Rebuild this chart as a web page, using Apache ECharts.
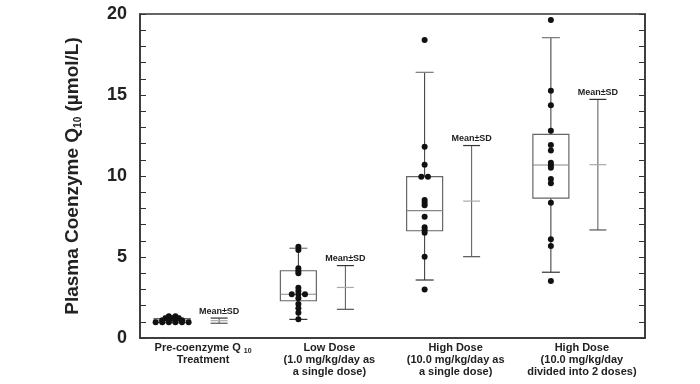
<!DOCTYPE html>
<html><head><meta charset="utf-8">
<script src="https://cdn.jsdelivr.net/npm/echarts@6/dist/echarts.min.js"></script>
<style>html,body{margin:0;padding:0;background:#fff}#c{width:700px;height:384px}</style>
</head><body><div id="c"></div>
<script>
// ---- data ----
const categories = [
  'Pre-coenzyme Q {sub|10}\nTreatment',
  'Low Dose\n(1.0 mg/kg/day as\na single dose)',
  'High Dose\n(10.0 mg/kg/day as\na single dose)',
  'High Dose\n(10.0 mg/kg/day\ndivided into 2 doses)'
];
const pointsPre = [0.97, 0.97, 0.97, 0.97, 0.97, 0.97, 1.1, 1.1, 1.1, 1.1, 1.22, 1.22, 1.22, 1.35, 1.35];
const pointsLow = [5.64, 5.43, 4.30, 4.14, 4.0, 3.1, 2.9, 2.7, 2.7, 2.7, 2.45, 2.1, 1.83, 1.56, 1.15];
const pointsHighSingle = [18.4, 11.8, 10.7, 9.96, 9.96, 8.52, 8.35, 8.19, 7.49, 6.83, 6.67, 6.5, 5.02, 3.0];
const pointsHighDivided = [19.63, 15.27, 14.36, 12.8, 11.91, 11.58, 10.82, 10.66, 10.51, 9.81, 9.55, 8.35, 6.09, 5.68, 3.52];
const whiskerLow  = [0.95, 1.15, 3.58, 4.06];
const quartile1   = [0.97, 2.30, 6.62, 8.64];
const medians     = [1.1, 2.70, 7.86, 10.68];
const quartile3   = [1.2, 4.15, 9.96, 12.57];
const whiskerHigh = [1.35, 5.54, 16.4, 18.54];
const means = [1.07, 3.12, 8.45, 10.70];
const sds   = [0.16, 1.35, 3.43, 4.03];
const meanLabel = 'Mean±SD';
const yMin = 0, yMax = 20, yStep = 5;
// --------------------------------------

const allPoints = [pointsPre, pointsLow, pointsHighSingle, pointsHighDivided];
const FONT = '"Liberation Sans", Arial, sans-serif';
const BOX_OFF = -31, SD_OFF = 16;

function renderBox(params, api) {
  const i = api.value(0);
  const cx = api.coord([i, 0])[0] + BOX_OFF;
  const y = v => api.coord([i, v])[1];
  const hw = 18, cw = 9;
  const dark = '#333', grey = '#777';
  return { type: 'group', children: [
    { type: 'line', shape: { x1: cx, y1: y(quartile3[i]), x2: cx, y2: y(whiskerHigh[i]) }, style: { stroke: dark, lineWidth: 1 } },
    { type: 'line', shape: { x1: cx, y1: y(quartile1[i]), x2: cx, y2: y(whiskerLow[i]) }, style: { stroke: dark, lineWidth: 1 } },
    { type: 'line', shape: { x1: cx - cw, y1: y(whiskerHigh[i]), x2: cx + cw, y2: y(whiskerHigh[i]) }, style: { stroke: grey, lineWidth: 1.2 } },
    { type: 'line', shape: { x1: cx - cw, y1: y(whiskerLow[i]), x2: cx + cw, y2: y(whiskerLow[i]) }, style: { stroke: dark, lineWidth: 1.2 } },
    { type: 'rect', shape: { x: cx - hw, y: y(quartile3[i]), width: 2 * hw, height: y(quartile1[i]) - y(quartile3[i]) }, style: { fill: 'none', stroke: '#666', lineWidth: 1.2 } },
    { type: 'line', shape: { x1: cx - hw, y1: y(medians[i]), x2: cx + hw, y2: y(medians[i]) }, style: { stroke: '#888', lineWidth: 1.2 } }
  ]};
}

function renderSD(params, api) {
  const i = api.value(0);
  const cx = api.coord([i, 0])[0] + SD_OFF;
  const y = v => api.coord([i, v])[1];
  const cw = 8.5;
  const top = y(means[i] + sds[i]), bot = y(means[i] - sds[i]), mid = y(means[i]);
  return { type: 'group', children: [
    { type: 'line', shape: { x1: cx, y1: top, x2: cx, y2: bot }, style: { stroke: '#555', lineWidth: 1 } },
    { type: 'line', shape: { x1: cx - cw, y1: top, x2: cx + cw, y2: top }, style: { stroke: '#333', lineWidth: 1.2 } },
    { type: 'line', shape: { x1: cx - cw, y1: bot, x2: cx + cw, y2: bot }, style: { stroke: '#555', lineWidth: 1.2 } },
    { type: 'line', shape: { x1: cx - cw, y1: mid, x2: cx + cw, y2: mid }, style: { stroke: '#aaa', lineWidth: 1.2 } },
    { type: 'text', x: cx, y: top - 7, style: { text: meanLabel, font: 'bold 9px ' + FONT, fill: '#222', align: 'center', verticalAlign: 'middle' } }
  ]};
}

function renderPoints(params, api) {
  const i = api.value(0);
  const cx = api.coord([i, 0])[0] + BOX_OFF;
  const vals = allPoints[i].slice().sort((a, b) => b - a);
  const ys = vals.map(v => api.coord([i, v])[1]);
  const clusters = [];
  ys.forEach(py => {
    const last = clusters[clusters.length - 1];
    if (last && Math.abs(py - last[0]) < 1.2) last.push(py); else clusters.push([py]);
  });
  const d = 6.6, children = [];
  clusters.forEach(cl => {
    cl.forEach((py, j) => {
      children.push({ type: 'circle', shape: { cx: cx + (j - (cl.length - 1) / 2) * d, cy: py, r: 3 }, style: { fill: '#111' } });
    });
  });
  return { type: 'group', children };
}

const baseData = categories.map((c, i) => [i, medians[i]]);
const chart = echarts.init(document.getElementById('c'), null, { renderer: 'canvas' });
const yAxisCommon = {
  type: 'value', min: yMin, max: yMax, interval: yStep,
  axisLine: { show: true, lineStyle: { color: '#333', width: 1.5 } },
  axisTick: { show: true, inside: true, length: 6, lineStyle: { color: '#333' } },
  minorTick: { show: true, splitNumber: 5, length: 6, lineStyle: { color: '#333' } },
  splitLine: { show: false }
};
chart.setOption({
  animation: false,
  grid: { left: 140, right: 55, top: 14, bottom: 46, show: true, borderColor: '#333', borderWidth: 1.5, backgroundColor: 'transparent' },
  xAxis: {
    type: 'category', data: categories, boundaryGap: true,
    axisLine: { lineStyle: { color: '#333', width: 1.5 } },
    axisTick: { alignWithLabel: true, inside: true, length: 6, lineStyle: { color: '#333' } },
    axisLabel: {
      interval: 0, margin: 4, color: '#222', fontFamily: FONT, fontWeight: 'bold', fontSize: 11, lineHeight: 12,
      rich: { sub: { fontSize: 7, fontWeight: 'bold', fontFamily: FONT, color: '#222', lineHeight: 12, padding: [6, 0, 0, 0] } }
    }
  },
  yAxis: [
    Object.assign({}, yAxisCommon, {
      position: 'left',
      name: 'Plasma Coenzyme Q{sub|10} (µmol/L)', nameLocation: 'middle', nameGap: 57,
      nameTextStyle: { fontSize: 19, fontWeight: 'bold', fontFamily: FONT, color: '#222',
        rich: { sub: { fontSize: 10, fontWeight: 'bold', fontFamily: FONT, color: '#222', padding: [11, 0, 0, 0] } } },
      axisLabel: { fontSize: 18, fontWeight: 'bold', fontFamily: FONT, color: '#222', margin: 13 }
    }),
    Object.assign({}, yAxisCommon, { position: 'right', axisLabel: { show: false } })
  ],
  series: [
    { type: 'custom', renderItem: renderBox, data: baseData, encode: { x: 0, y: 1 }, z: 2 },
    { type: 'custom', renderItem: renderSD, data: baseData, encode: { x: 0, y: 1 }, z: 2 },
    { type: 'custom', renderItem: renderPoints, data: baseData, encode: { x: 0, y: 1 }, z: 3 }
  ]
});
</script></body></html>
